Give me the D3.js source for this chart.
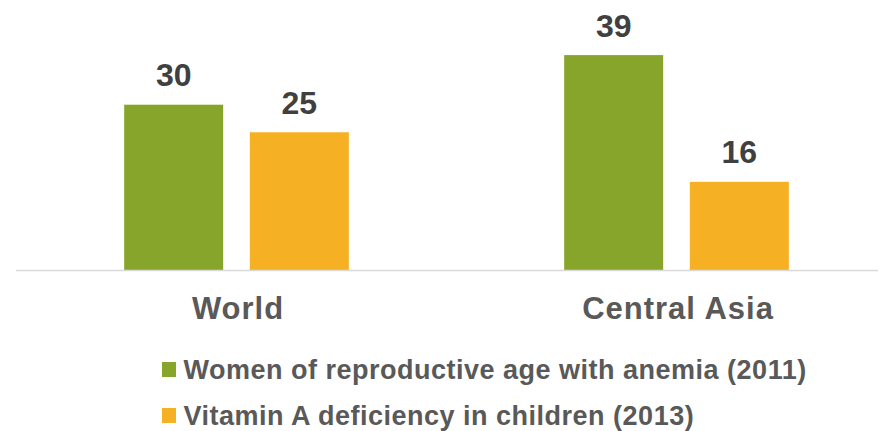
<!DOCTYPE html>
<html>
<head>
<meta charset="utf-8">
<script src="https://cdn.jsdelivr.net/npm/d3@7"></script>
<style>
  html, body { margin: 0; padding: 0; background: #ffffff; }
  svg { display: block; font-family: "Liberation Sans", Arial, sans-serif; }
</style>
</head>
<body>
<svg id="chart" width="878" height="431"></svg>
<script>
// Regions shown on the x axis
const categories = ["World", "Central Asia"];
// Series names (legend) and their colours
const seriesNames = [
  "Women of reproductive age with anemia (2011)",
  "Vitamin A deficiency in children (2013)"
];
const seriesColors = ["#87A52A", "#F5B123"];
// Percent values, one array per series, ordered like categories
const anemiaValues = [30, 39];
const vitaminAValues = [25, 16];

const seriesValues = [anemiaValues, vitaminAValues];
const rows = categories.map((c, i) => ({
  category: c,
  values: seriesNames.map((s, j) => ({ series: s, idx: j, value: seriesValues[j][i] }))
}));

const svg = d3.select("#chart");
const baseY = 270;

const x0 = d3.scaleBand().domain(categories).range([16.5, 896.5]).padding(0);
const x1 = d3.scaleBand().domain(seriesNames).range([0, x0.bandwidth()])
  .paddingInner(0.212).paddingOuter(0.857);
const y = d3.scaleLinear().domain([0, 40]).range([baseY, baseY - 40 * 5.51]);
const color = d3.scaleOrdinal().domain(seriesNames).range(seriesColors);

// Bars
const groups = svg.append("g").selectAll("g")
  .data(rows).join("g")
  .attr("transform", d => `translate(${x0(d.category)},0)`);

groups.selectAll("rect")
  .data(d => d.values).join("rect")
  .attr("x", d => x1(d.series))
  .attr("width", x1.bandwidth())
  .attr("y", d => y(d.value))
  .attr("height", d => y(0) - y(d.value))
  .attr("fill", d => color(d.series));

// Value labels
groups.selectAll("text")
  .data(d => d.values).join("text")
  .attr("x", d => x1(d.series) + x1.bandwidth() / 2)
  .attr("y", d => y(d.value) - 18.5)
  .attr("text-anchor", "middle")
  .attr("font-size", 32)
  .attr("font-weight", "bold")
  .attr("fill", "#404040")
  .text(d => d.value);

// Category axis
const axis = svg.append("g")
  .attr("transform", `translate(0,${baseY + 0.5})`)
  .call(d3.axisBottom(x0).tickSize(0).tickPadding(0));
axis.select(".domain")
  .attr("d", "M16,0H878")
  .attr("stroke", "#D9D9D9")
  .attr("stroke-width", 1.5);
axis.selectAll(".tick text")
  .attr("dy", null)
  .attr("y", 48)
  .attr("x", 1.5)
  .attr("font-family", "Liberation Sans, Arial, sans-serif")
  .attr("font-size", 31)
  .attr("letter-spacing", 1)
  .attr("font-weight", "bold")
  .attr("fill", "#595959");

// Legend
const legend = svg.append("g").selectAll("g")
  .data(seriesNames).join("g")
  .attr("transform", (d, i) => `translate(162,${362 + i * 46})`);
legend.append("rect")
  .attr("width", 14).attr("height", 15)
  .attr("fill", d => color(d));
legend.append("text")
  .attr("x", 21.5).attr("y", 17)
  .attr("font-size", 27)
  .attr("letter-spacing", 0.5)
  .attr("font-weight", "bold")
  .attr("fill", "#595959")
  .text(d => d);
</script>
</body>
</html>
